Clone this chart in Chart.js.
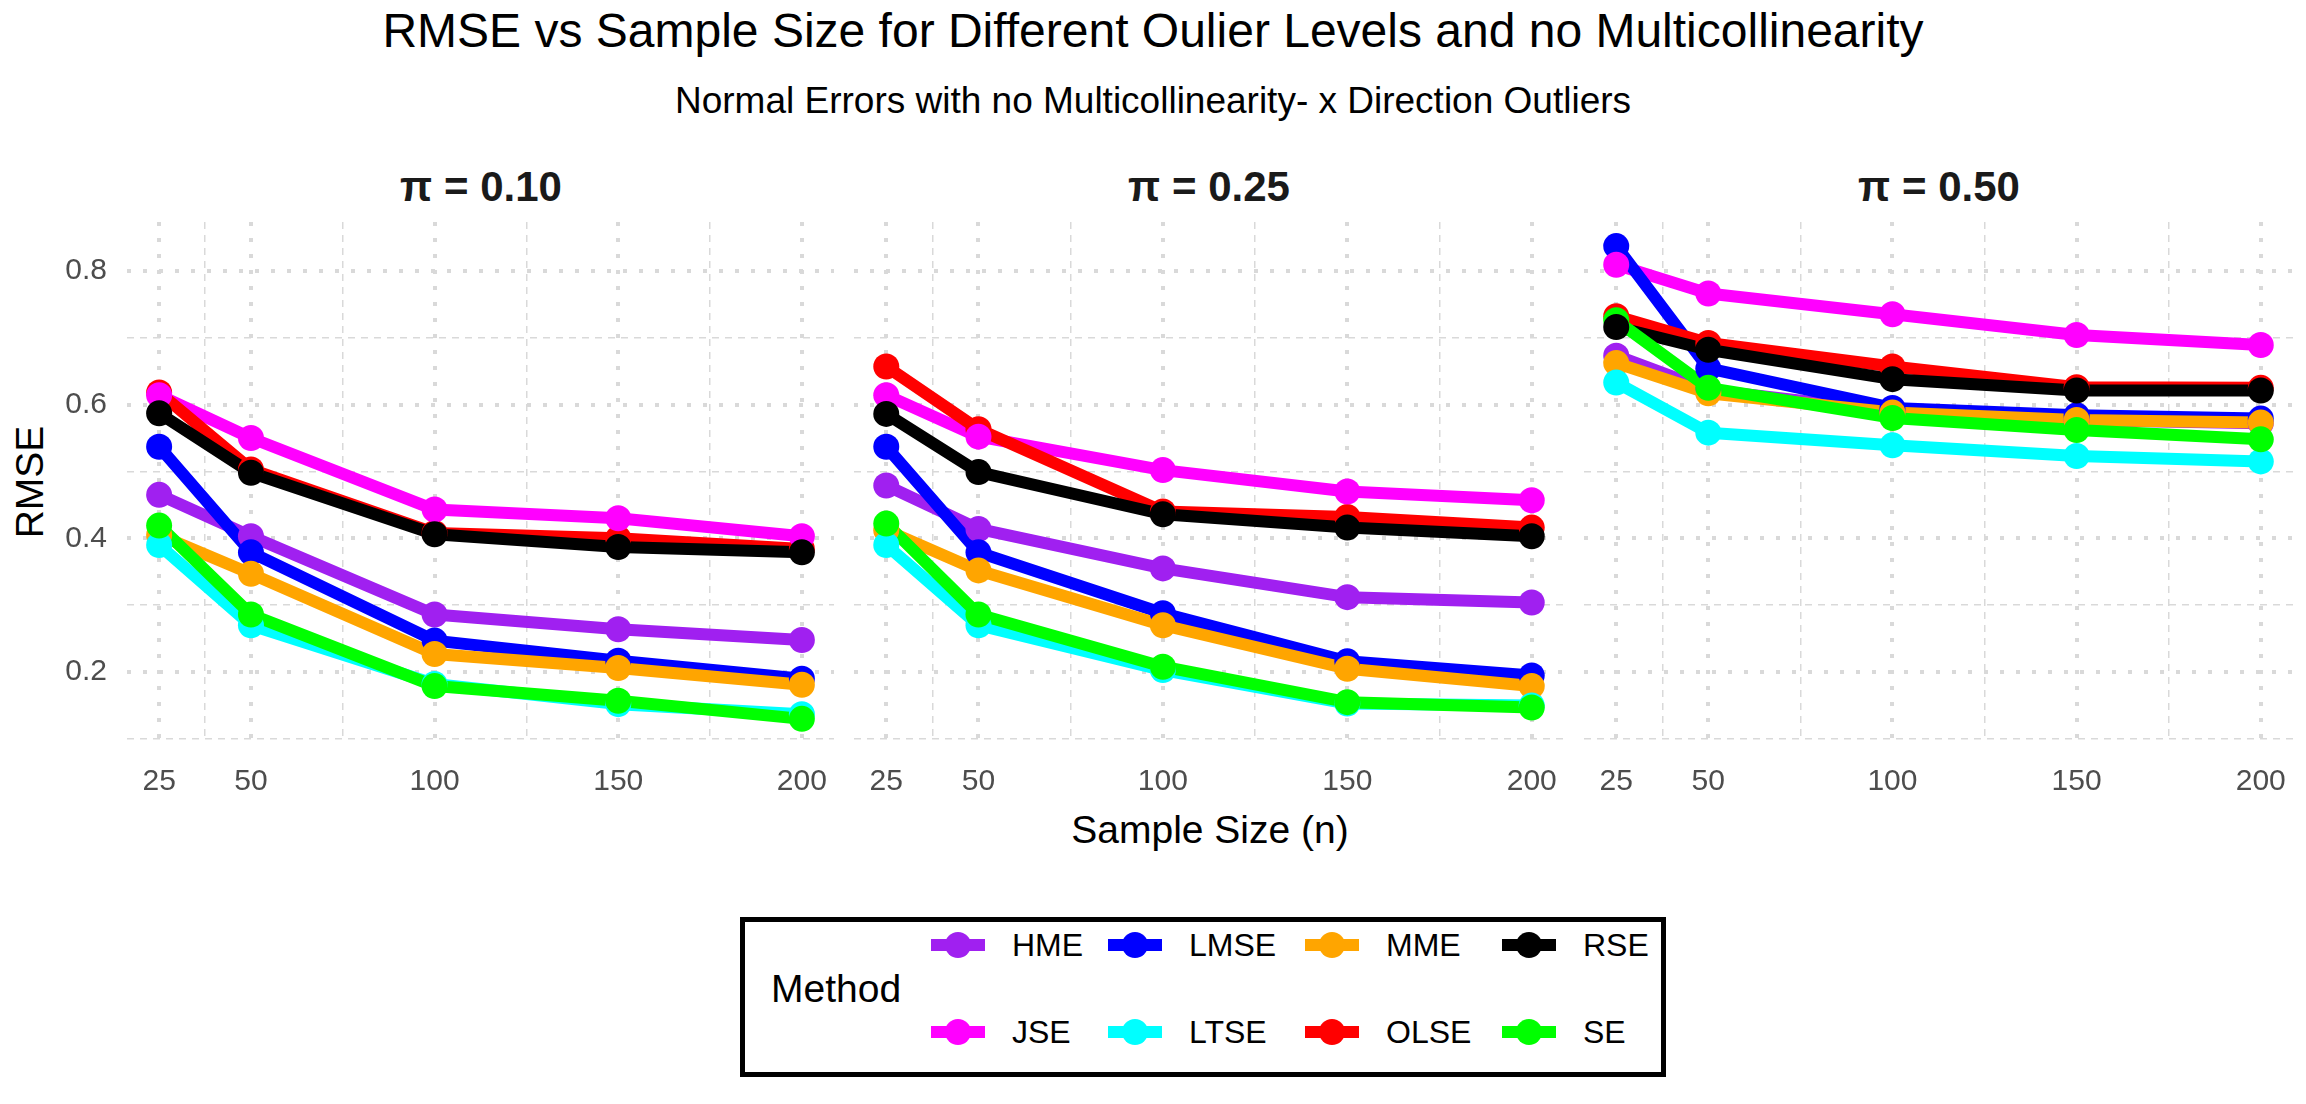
<!DOCTYPE html>
<html>
<head>
<meta charset="utf-8">
<script src="https://cdn.jsdelivr.net/npm/chart.js@4.4.1/dist/chart.umd.min.js"></script>
<style>
  html, body { margin: 0; padding: 0; background: #fff; }
  body { width: 2306px; height: 1104px; position: relative; overflow: hidden;
         font-family: 'Liberation Sans', Arial, sans-serif; color: #000; }
  .txt { position: absolute; white-space: nowrap; }
  .center { transform: translateX(-50%); }
  canvas { position: absolute; }
  #legend { position: absolute; left: 740px; top: 917px; width: 926px; height: 160px;
            border: 5px solid #000; box-sizing: border-box; }
  .key { position: absolute; width: 54px; height: 26px; }
  .key .bar { position: absolute; left: 0; top: 7px; width: 54px; height: 12px; }
  .key .dot { position: absolute; left: 14px; top: 0; width: 26px; height: 26px; border-radius: 50%; }
</style>
</head>
<body>
<div class="txt center" style="left:1153px; top:7px; font-size:48px; line-height:48px;">RMSE vs Sample Size for Different Oulier Levels and no Multicollinearity</div>
<div class="txt center" style="left:1153px; top:82px; font-size:37px; line-height:37px;">Normal Errors with no Multicollinearity- x Direction Outliers</div>

<div class="txt center" style="left:481px; top:166px; font-size:42px; line-height:42px; font-weight:bold; color:#1a1a1a;">π = 0.10</div>
<div class="txt center" style="left:1209px; top:166px; font-size:42px; line-height:42px; font-weight:bold; color:#1a1a1a;">π = 0.25</div>
<div class="txt center" style="left:1939px; top:166px; font-size:42px; line-height:42px; font-weight:bold; color:#1a1a1a;">π = 0.50</div>

<div class="txt" style="left:29px; top:482px; font-size:39px; line-height:39px; transform: translate(-50%, -50%) rotate(-90deg);">RMSE</div>
<div class="txt center" style="left:1210px; top:810px; font-size:39px; line-height:39px;">Sample Size (n)</div>

<canvas id="p1" width="834" height="600" style="left:0px; top:222px; width:834px; height:600px;"></canvas>
<canvas id="p2" width="710" height="600" style="left:854px; top:222px; width:710px; height:600px;"></canvas>
<canvas id="p3" width="709" height="600" style="left:1584px; top:222px; width:709px; height:600px;"></canvas>

<div id="legend">
  <div class="txt" style="left:26px; top:47px; font-size:39px; line-height:39px;">Method</div>
</div>

<script>
// sample sizes on the x axis, tick positions
const sampleSizes = [25, 50, 100, 150, 200];
const minorX = [37.5, 75, 125, 175];
const yTicks = [0.2, 0.4, 0.6, 0.8];
const minorY = [0.1, 0.3, 0.5, 0.7];
const methods = ['HME', 'JSE', 'LMSE', 'LTSE', 'MME', 'OLSE', 'RSE', 'SE'];

const rmsePi10 = {
  HME:  [0.465, 0.403, 0.286, 0.264, 0.248],
  JSE:  [0.614, 0.550, 0.443, 0.430, 0.403],
  LMSE: [0.537, 0.379, 0.247, 0.217, 0.190],
  LTSE: [0.390, 0.270, 0.182, 0.152, 0.137],
  MME:  [0.405, 0.347, 0.227, 0.206, 0.181],
  OLSE: [0.618, 0.503, 0.408, 0.400, 0.384],
  RSE:  [0.587, 0.498, 0.406, 0.387, 0.379],
  SE:   [0.419, 0.286, 0.179, 0.157, 0.130]
};
const rmsePi25 = {
  HME:  [0.479, 0.414, 0.355, 0.312, 0.304],
  JSE:  [0.614, 0.552, 0.502, 0.470, 0.457],
  LMSE: [0.537, 0.379, 0.288, 0.216, 0.195],
  LTSE: [0.390, 0.270, 0.203, 0.153, 0.150],
  MME:  [0.412, 0.352, 0.270, 0.205, 0.179],
  OLSE: [0.657, 0.563, 0.440, 0.432, 0.416],
  RSE:  [0.586, 0.499, 0.436, 0.416, 0.403],
  SE:   [0.422, 0.286, 0.208, 0.155, 0.147]
};
const rmsePi50 = {
  HME:  [0.673, 0.622, 0.590, 0.577, 0.572],
  JSE:  [0.809, 0.766, 0.735, 0.704, 0.689],
  LMSE: [0.837, 0.654, 0.595, 0.584, 0.579],
  LTSE: [0.633, 0.558, 0.539, 0.523, 0.515],
  MME:  [0.662, 0.617, 0.588, 0.577, 0.573],
  OLSE: [0.732, 0.692, 0.657, 0.626, 0.625],
  RSE:  [0.716, 0.682, 0.638, 0.621, 0.621],
  SE:   [0.726, 0.625, 0.580, 0.562, 0.548]
};

const colours = {
  HME: '#A020F0', JSE: '#FF00FF', LMSE: '#0000FF', LTSE: '#00FFFF',
  MME: '#FFA500', OLSE: '#FF0000', RSE: '#000000', SE: '#00FF00'
};
// stacking of the dots (bottom first), lines stack alphabetically
const pointStack = ['HME', 'LMSE', 'MME', 'OLSE', 'JSE', 'LTSE', 'SE', 'RSE'];

const FONT = "'Liberation Sans', Arial, sans-serif";
const GRID = '#D9D9D9';

function noPad(s) {
  s.paddingLeft = 0; s.paddingRight = 0; s.paddingTop = 0; s.paddingBottom = 0;
}

function panel(id, values, showY) {
  const pts = m => sampleSizes.map((n, k) => ({ x: n, y: values[m][k] }));
  const lines = methods.map((m, i) => ({
    label: m,
    data: pts(m),
    xAxisID: 'x', yAxisID: 'y',
    borderColor: colours[m],
    backgroundColor: colours[m],
    borderWidth: 12,
    borderJoinStyle: 'round',
    pointRadius: 0,
    pointHoverRadius: 0,
    tension: 0,
    order: 20 + (methods.length - 1 - i)
  }));
  const dots = pointStack.map((m, i) => ({
    label: m,
    data: pts(m),
    xAxisID: 'x', yAxisID: 'y',
    showLine: false,
    borderColor: colours[m],
    backgroundColor: colours[m],
    pointBackgroundColor: colours[m],
    pointBorderWidth: 0,
    pointRadius: 13,
    pointHoverRadius: 13,
    order: pointStack.length - 1 - i
  }));

  new Chart(document.getElementById(id), {
    type: 'line',
    data: { datasets: lines.concat(dots) },
    options: {
      responsive: false,
      animation: false,
      events: [],
      layout: { autoPadding: false, padding: 0 },
      plugins: { legend: { display: false }, tooltip: { enabled: false }, title: { display: false } },
      scales: {
        x: {
          type: 'linear', position: 'bottom', min: 16.25, max: 208.75,
          afterBuildTicks: s => { s.ticks = sampleSizes.map(v => ({ value: v })); },
          afterFit: s => { s.height = 80; noPad(s); },
          ticks: { font: { family: FONT, size: 30 }, color: '#4D4D4D', padding: 22,
                   maxRotation: 0, autoSkip: false, callback: v => String(v) },
          grid: { color: GRID, lineWidth: 4, drawTicks: false },
          border: { display: false, dash: [4, 12] }
        },
        xMinor: {
          type: 'linear', position: 'bottom', min: 16.25, max: 208.75,
          afterBuildTicks: s => { s.ticks = minorX.map(v => ({ value: v })); },
          afterFit: s => { s.height = 0; noPad(s); },
          ticks: { display: false },
          grid: { color: GRID, lineWidth: 1.5, drawTicks: false },
          border: { display: false, dash: [7, 6] }
        },
        y: {
          type: 'linear', position: 'left', min: 0.0954, max: 0.873,
          afterBuildTicks: s => { s.ticks = yTicks.map(v => ({ value: v })); },
          afterFit: s => { s.width = showY ? 127 : 0; noPad(s); },
          ticks: { display: showY, font: { family: FONT, size: 30 }, color: '#4D4D4D', padding: 20,
                   callback: v => v.toFixed(1) },
          grid: { color: GRID, lineWidth: 4, drawTicks: false },
          border: { display: false, dash: [4, 12] }
        },
        yMinor: {
          type: 'linear', position: 'left', min: 0.0954, max: 0.873,
          afterBuildTicks: s => { s.ticks = minorY.map(v => ({ value: v })); },
          afterFit: s => { s.width = 0; noPad(s); },
          ticks: { display: false },
          grid: { color: GRID, lineWidth: 1.5, drawTicks: false },
          border: { display: false, dash: [7, 6] }
        }
      }
    }
  });
}

panel('p1', rmsePi10, true);
panel('p2', rmsePi25, false);
panel('p3', rmsePi50, false);

// legend: two rows, filled column by column
const legendCols = [931, 1108, 1305, 1502];
const legendRows = [945, 1032];
const legend = document.getElementById('legend');
methods.forEach((m, i) => {
  const col = Math.floor(i / 2), row = i % 2;
  const x = legendCols[col] - 745, y = legendRows[row] - 922;
  const key = document.createElement('div');
  key.className = 'key';
  key.style.left = x + 'px';
  key.style.top = (y - 13) + 'px';
  key.innerHTML = '<div class="bar" style="background:' + colours[m] + '"></div>' +
                  '<div class="dot" style="background:' + colours[m] + '"></div>';
  legend.appendChild(key);
  const lab = document.createElement('div');
  lab.className = 'txt';
  lab.style.cssText = 'left:' + (x + 81) + 'px; top:' + (y - 16) + 'px; font-size:32px; line-height:32px;';
  lab.textContent = m;
  legend.appendChild(lab);
});
</script>
</body>
</html>
